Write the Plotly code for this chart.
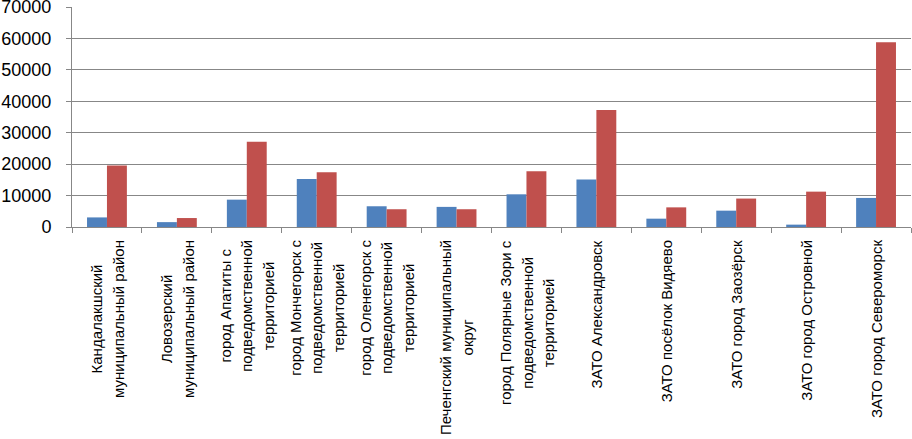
import plotly.graph_objects as go

categories = [
    "Кандалакшский<br>муниципальный район",
    "Ловозерский<br>муниципальный район",
    "город Апатиты с<br>подведомственной<br>территорией",
    "город Мончегорск с<br>подведомственной<br>территорией",
    "город Оленегорск с<br>подведомственной<br>территорией",
    "Печенгский муниципальный<br>округ",
    "город Полярные Зори с<br>подведомственной<br>территорией",
    "ЗАТО Александровск",
    "ЗАТО посёлок Видяево",
    "ЗАТО город Заозёрск",
    "ЗАТО город Островной",
    "ЗАТО город Североморск",
]
series_blue = [3050, 1550, 8700, 15300, 6600, 6400, 10400, 15100, 2650, 5200, 750, 9250]
series_red = [19600, 2850, 27100, 17400, 5650, 5650, 17750, 37250, 6250, 9050, 11250, 58750]
y_ticks = [0, 10000, 20000, 30000, 40000, 50000, 60000, 70000]

cat_ids = list(range(len(categories)))

fig = go.Figure()
fig.add_trace(go.Bar(x=cat_ids, y=series_blue, marker=dict(color="#4F81BD", line=dict(width=0)), name="A"))
fig.add_trace(go.Bar(x=cat_ids, y=series_red, marker=dict(color="#C0504D", line=dict(width=0)), name="B"))

def styled(label):
    return "<br>".join('<span style="font-size:15px">%s</span>' % part for part in label.split("<br>"))

for i, lab in zip(cat_ids, categories):
    fig.add_annotation(
        x=i, xref="x", y=0, yref="paper", yanchor="top", xanchor="center",
        yshift=-11, text=styled(lab), textangle=-90, align="center", showarrow=False,
        font=dict(family="Liberation Sans, Arial, sans-serif", size=16.7, color="#000000"),
    )

fig.update_layout(
    width=912, height=439,
    margin=dict(l=72, r=1, t=7, b=212, autoexpand=False),
    paper_bgcolor="white", plot_bgcolor="white",
    showlegend=False,
    barmode="group", bargap=0.43, bargroupgap=0,
    font=dict(family="Liberation Sans, Arial, sans-serif", color="#000000"),
)
fig.update_xaxes(
    type="linear", range=[-0.5, len(categories) - 0.5], automargin=False,
    tickvals=[i - 0.5 for i in range(len(categories) + 1)],
    showticklabels=False, ticks="outside", ticklen=5, tickcolor="#878787",
    showline=True, linecolor="#878787", linewidth=1, showgrid=False, zeroline=False,
)
fig.update_yaxes(
    range=[0, 70000], tickvals=y_ticks, ticktext=[str(v) for v in y_ticks],
    automargin=False, ticklabeloverflow="allow",
    ticks="outside", ticklen=5, tickcolor="#878787", ticklabelstandoff=11,
    showline=True, linecolor="#878787", linewidth=1,
    showgrid=True, gridcolor="#878787", gridwidth=1, zeroline=False,
    tickfont=dict(family="Liberation Sans, Arial, sans-serif", size=18, color="#000000"),
)

fig.write_html(
    "out.html",
    config={"displayModeBar": False},
    post_script="document.body.style.margin='0';document.body.style.overflow='hidden';",
)
